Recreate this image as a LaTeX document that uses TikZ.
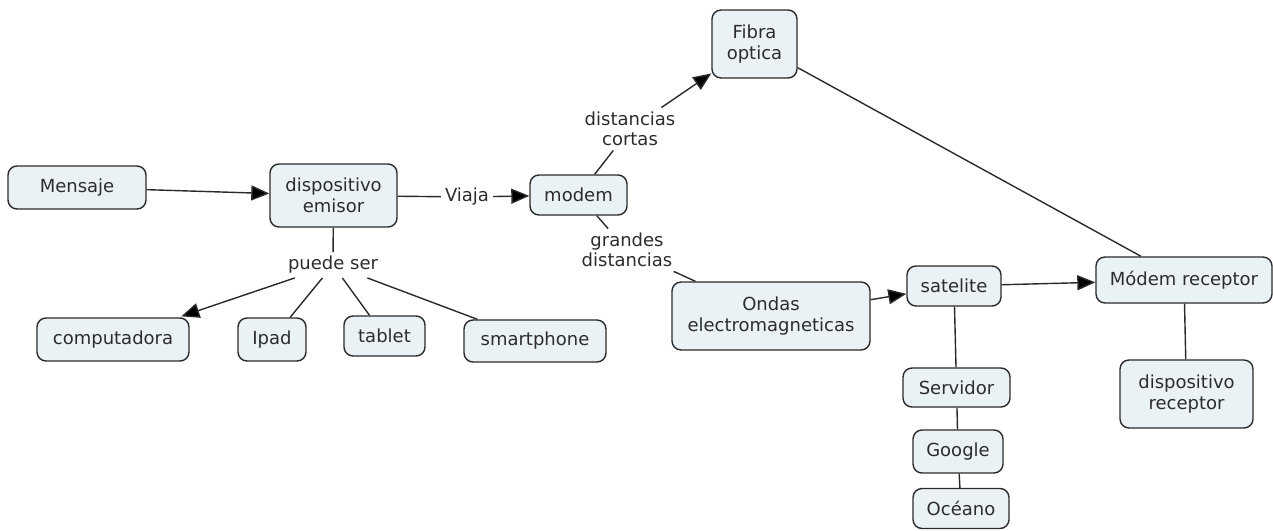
\documentclass[tikz,border=0pt]{standalone}
\usepackage{fontspec}
\setmainfont{DejaVu Sans}
\usetikzlibrary{arrows.meta}
\definecolor{cfill}{HTML}{EBF2F5}
\definecolor{cline}{HTML}{2A2A2A}
\definecolor{ctext}{HTML}{2C2C2C}
\begin{document}
\begin{tikzpicture}[x=1pt,y=-1pt,
  concept/.style={draw=cline, fill=cfill, rounded corners=9pt, line width=1.4pt,
    align=center, font=\fontsize{18}{20.5}\selectfont, inner sep=0pt, text=ctext},
  lbl/.style={align=center, font=\fontsize{18}{20.5}\selectfont, inner sep=4pt, text=ctext},
  conn/.style={line width=1.4pt, draw=cline},
  arr/.style={conn, -{Triangle[length=18pt,width=15pt]}, arrows={-{Triangle[length=18pt,width=15pt,fill=black]}}}
]
\useasboundingbox (0,0) rectangle (1273,530);

\node[concept, minimum width=138pt, minimum height=43pt] (mensaje) at (77,187.5) {Mensaje};
\node[concept, minimum width=127pt, minimum height=63pt] (emisor) at (333.5,195.5) {dispositivo\\emisor};
\node[concept, minimum width=97pt, minimum height=40pt] (modem) at (578.5,195) {modem};
\node[concept, minimum width=85pt, minimum height=68pt] (fibra) at (754.5,44) {Fibra\\optica};
\node[concept, minimum width=198pt, minimum height=68pt] (ondas) at (771,316) {Ondas\\electromagneticas};
\node[concept, minimum width=94pt, minimum height=40pt] (satelite) at (954,286) {satelite};
\node[concept, minimum width=176pt, minimum height=46pt] (mrec) at (1184,280) {Módem receptor};
\node[concept, minimum width=133pt, minimum height=68pt] (drec) at (1186.5,394) {dispositivo\\receptor};
\node[concept, minimum width=107pt, minimum height=39pt] (servidor) at (956.5,387.5) {Servidor};
\node[concept, minimum width=90pt, minimum height=43pt] (google) at (958,451.5) {Google};
\node[concept, minimum width=96pt, minimum height=40pt] (oceano) at (961,508.5) {Océano};
\node[concept, minimum width=152pt, minimum height=43pt] (comp) at (113,339.5) {computadora};
\node[concept, minimum width=68pt, minimum height=43pt] (ipad) at (272,339.5) {Ipad};
\node[concept, minimum width=81pt, minimum height=40pt] (tablet) at (384.5,336) {tablet};
\node[concept, minimum width=142pt, minimum height=42pt] (smart) at (535,341) {smartphone};

\node[lbl] (puede) at (333,265) {puede ser};
\node[lbl] (viaja) at (467,197) {Viaja};
\node[lbl] (cortas) at (630,129) {distancias\\cortas};
\node[lbl] (grandes) at (627,250) {grandes\\distancias};

\draw[arr] (mensaje) -- (emisor);
\draw[conn] (emisor) -- (viaja);
\draw[arr] (viaja) -- (modem);
\draw[conn] (modem) -- (cortas);
\draw[arr] (cortas) -- (fibra);
\draw[conn] (modem) -- (grandes);
\draw[conn] (grandes) -- (ondas);
\draw[arr] (ondas) -- (satelite);
\draw[arr] (satelite) -- (mrec);
\draw[conn] (fibra) -- (mrec);
\draw[conn] (satelite) -- (servidor);
\draw[conn] (servidor) -- (google);
\draw[conn] (google) -- (oceano);
\draw[conn] (mrec) -- (drec);
\draw[conn] (emisor) -- (puede);
\draw[arr, shorten >=3pt] (puede) -- (comp);
\draw[conn] (puede) -- (ipad);
\draw[conn] (puede) -- (tablet);
\draw[conn] (puede) -- (smart);
\end{tikzpicture}
\end{document}
